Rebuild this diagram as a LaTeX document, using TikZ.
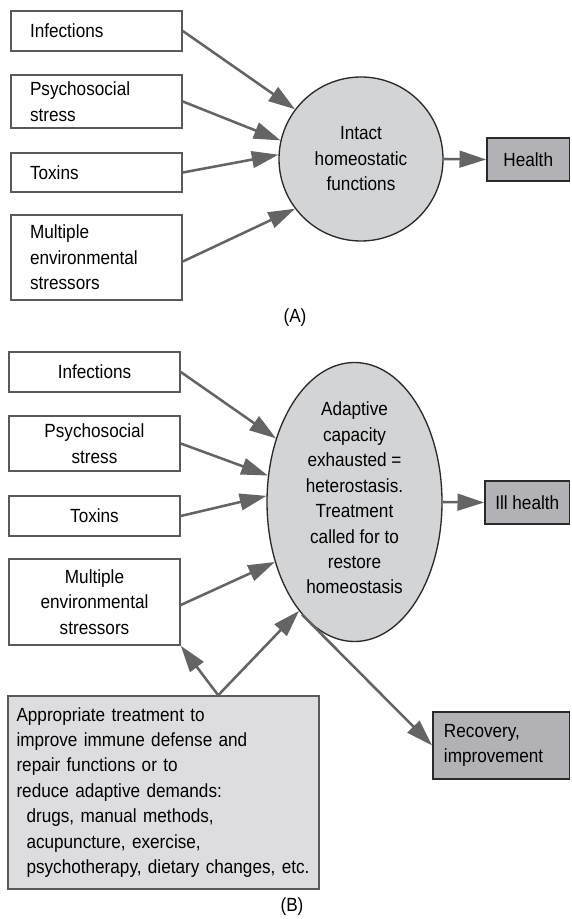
\documentclass[tikz,border=0pt]{standalone}
\usepackage{fontspec}
\setmainfont{Liberation Sans}[FakeStretch=0.9]
\usetikzlibrary{arrows.meta,shapes.geometric,calc}

\definecolor{linkgray}{HTML}{646464}
\definecolor{boxedge}{HTML}{5A5A5A}
\definecolor{darkedge}{HTML}{2A2A2A}
\definecolor{outfill}{HTML}{B2B2B6}
\definecolor{corefill}{HTML}{D3D4D6}
\definecolor{treatfill}{HTML}{DDDDE0}

\tikzset{
  inbox/.style={draw=boxedge, line width=1.2pt, fill=white, rectangle,
    minimum width=128.25pt, text width=99.75pt, inner xsep=14.25pt, inner ysep=0pt},
  inboxA/.style={inbox, align=left},
  inboxB/.style={inbox, align=center},
  outbox/.style={draw=darkedge, line width=1.2pt, fill=outfill, rectangle,
    inner sep=0pt},
  core/.style={draw=darkedge, line width=1pt, fill=corefill, inner sep=0pt},
  link/.style={draw=linkgray, line width=1.9pt,
    -{Triangle[length=20pt,width=12.5pt]}},
  caption/.style={inner sep=0pt}
}

\begin{document}
\begin{tikzpicture}[x=0.75pt, y=-0.75pt,
  font=\fontsize{14.3pt}{19.1pt}\selectfont]
\useasboundingbox (0,0) rectangle (571,919);

% ---------- panel A ----------
\node[inboxA, minimum height=30pt]    (iA) at (96.5,31)    {Infections};
\node[inboxA, minimum height=39.75pt] (pA) at (96.5,101.5) {Psychosocial\\stress};
\node[inboxA, minimum height=29.25pt] (tA) at (96.5,172.5) {Toxins};
\node[inboxA, minimum height=63.75pt] (mA) at (96.5,257.5) {Multiple\\environmental\\stressors};

\node[core, circle, minimum size=123pt, align=center] (hA) at (361,159)
  {Intact\\homeostatic\\functions};

\node[outbox, minimum width=61.9pt, minimum height=32.25pt] (health)
  at (528.25,159.5) {Health};

\draw[link] (iA.east) -- (hA.143);
\draw[link] (pA.east) -- (hA.167);
\draw[link] (tA.east) -- (hA.177);
\draw[link] ($(mA.east)+(0,4)$) -- (hA.217);
\draw[link] (hA.east) -- (health.west);

\node[caption] (capA) at (295,318) {(A)};

% ---------- panel B ----------
\node[inboxB, minimum height=30pt]   (iB) at (94.5,372)   {Infections};
\node[inboxB, minimum height=41.25pt] (pB) at (94.5,443.5) {Psychosocial\\stress};
\node[inboxB, minimum height=30pt]   (tB) at (94.5,516)   {Toxins};
\node[inboxB, minimum height=64.5pt] (mB) at (94.5,602)   {Multiple\\environmental\\stressors};

\node[core, ellipse, minimum width=131.25pt, minimum height=209.25pt] (adapt)
  at (354.5,502) {};
\node[caption, align=center] (adapttext) at (354.5,498)
  {Adaptive\\capacity\\exhausted =\\heterostasis.\\Treatment\\called for to\\restore\\homeostasis};

\node[outbox, minimum width=63.4pt, minimum height=32.25pt] (ill)
  at (527.25,502.5) {Ill health};

\node[outbox, minimum width=102.4pt, minimum height=50.25pt,
  text width=85.9pt, inner xsep=8.25pt, align=left] (rec)
  at (501.25,745.5) {Recovery,\\improvement};

\node[draw=boxedge, line width=1.2pt, fill=treatfill, rectangle,
  minimum width=233.25pt, minimum height=144.75pt,
  text width=220.5pt, inner xsep=6.375pt, inner ysep=0pt, align=left] (treat)
  at (163.5,792.5)
  {Appropriate treatment to\\
   improve immune defense and\\
   repair functions or to\\
   reduce adaptive demands:\\
   \hspace*{7.5pt}drugs, manual methods,\\
   \hspace*{7.5pt}acupuncture, exercise,\\
   \hspace*{7.5pt}psychotherapy, dietary changes, etc.};

\coordinate (tv) at ($(treat.north west)+(211,0)$);

\draw[link] (iB.east) -- (adapt.141.3);
\draw[link] (pB.east) -- (adapt.163.9);
\draw[link] (tB.east) -- (adapt.176.7);
\draw[link] ($(mB.east)+(0,3)$) -- (adapt.217.5);
\draw[link] (tv) -- (mB.south east);
\draw[link] (tv) -- (adapt.243.4);
\draw[link] (adapt.245) -- (rec.west);
\draw[link] (adapt.east) -- (ill.west);

\node[caption] (capB) at (292,907) {(B)};
\end{tikzpicture}
\end{document}
